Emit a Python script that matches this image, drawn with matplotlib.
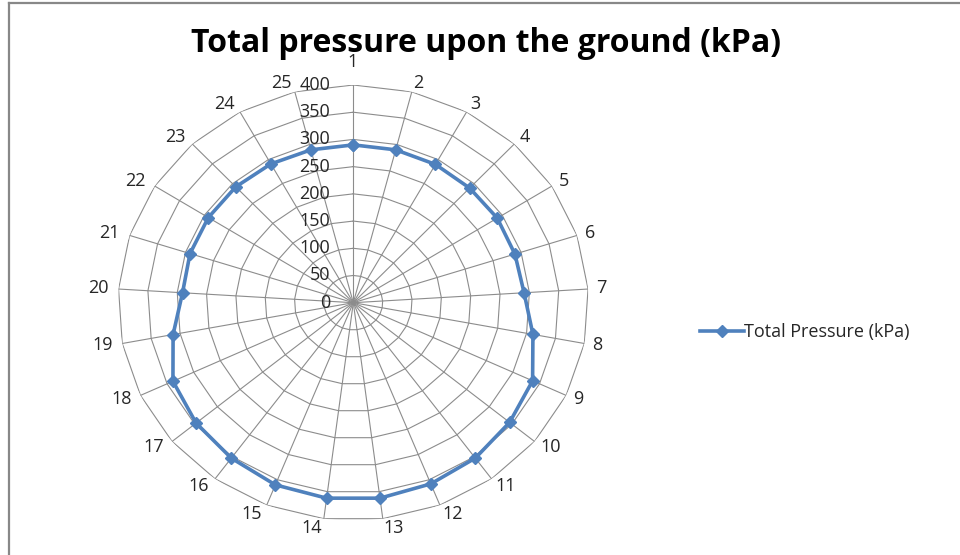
import numpy as np
import matplotlib
matplotlib.use('Agg')
import matplotlib.pyplot as plt
from matplotlib.lines import Line2D

# Values
categories = [str(i) for i in range(1, 26)]
pressure = [290, 290, 290, 289, 290, 289, 291, 311, 337, 345, 353, 358, 362,
            362, 360, 353, 347, 339, 312, 291, 292, 292, 292, 291, 290]
r_ticks = [0, 50, 100, 150, 200, 250, 300, 350, 400]
series_name = 'Total Pressure (kPa)'
title = 'Total pressure upon the ground (kPa)'

plt.rcParams['font.family'] = ['Open Sans', 'DejaVu Sans']

line_color = '#4F81BD'
grid_color = '#8C8C8C'
text_color = '#262626'
fs = 13

fig = plt.figure(figsize=(9.6, 5.55), dpi=100)
W, H = 960, 555

# polar axes stretched a little horizontally, as in the original
cx, cy, rx, ry = 353.3, 302.7, 235.2, 217.7
ax = fig.add_axes([(cx - rx) / W, (H - cy - ry) / H, 2 * rx / W, 2 * ry / H],
                  projection='polar')
ax.set_aspect('auto')
ax.set_theta_zero_location('N')
ax.set_theta_direction(-1)

n = len(categories)
theta = np.linspace(0, 2 * np.pi, n, endpoint=False)
theta_c = np.append(theta, theta[0])

# polygon gridlines and spokes like Excel's radar chart
ax.grid(False)
ax.spines['polar'].set_visible(False)
for r in r_ticks[1:]:
    ax.plot(theta_c, [r] * (n + 1), color=grid_color, lw=0.8, zorder=1)
for t in theta:
    ax.plot([t, t], [0, r_ticks[-1]], color=grid_color, lw=0.8, zorder=1)

vals = np.append(pressure, pressure[0])
ax.plot(theta_c, vals, color=line_color, lw=2.6, marker='D', markersize=6.5,
        zorder=3, label=series_name)

ax.set_ylim(0, r_ticks[-1])
ax.set_yticks([])
ax.set_xticks([])
for r in r_ticks:
    ax.annotate(str(r), xy=(0, r), xytext=(-23, 0), textcoords='offset pixels',
                ha='right', va='center', fontsize=fs, color=text_color)

# category labels, edge-aligned like Excel does
for t, lab in zip(theta, categories):
    s, c = np.sin(t), np.cos(t)
    ha = 'left' if s > 0.05 else ('right' if s < -0.05 else 'center')
    dy = 23 if abs(s) < 0.05 and c > 0 else 9.2 * c
    ax.annotate(lab, xy=(t, r_ticks[-1]), xytext=(9 * s - 1, dy),
                textcoords='offset pixels', ha=ha, va='center',
                fontsize=fs, color=text_color, annotation_clip=False)

fig.text(486 / W, 1 - 43 / H, title, ha='center', va='center',
         fontsize=23, fontweight='bold', color='black')

handle = Line2D([], [], color=line_color, lw=2.6, marker='D', markersize=6.5)
fig.legend([handle], [series_name], loc='center left',
           bbox_to_anchor=(684 / W, 1 - 332 / H), frameon=False,
           fontsize=fs, handlelength=2.4, handletextpad=0.05,
           labelcolor=text_color)

# chart border (only top and left edges show)
fig.add_artist(Line2D([9 / W, 9 / W], [0, 1 - 2.5 / H], color='#888888',
                      lw=1.6, transform=fig.transFigure))
fig.add_artist(Line2D([9 / W, 1], [1 - 2.5 / H, 1 - 2.5 / H], color='#888888',
                      lw=1.6, transform=fig.transFigure))

fig.savefig('out.png', dpi=100)
